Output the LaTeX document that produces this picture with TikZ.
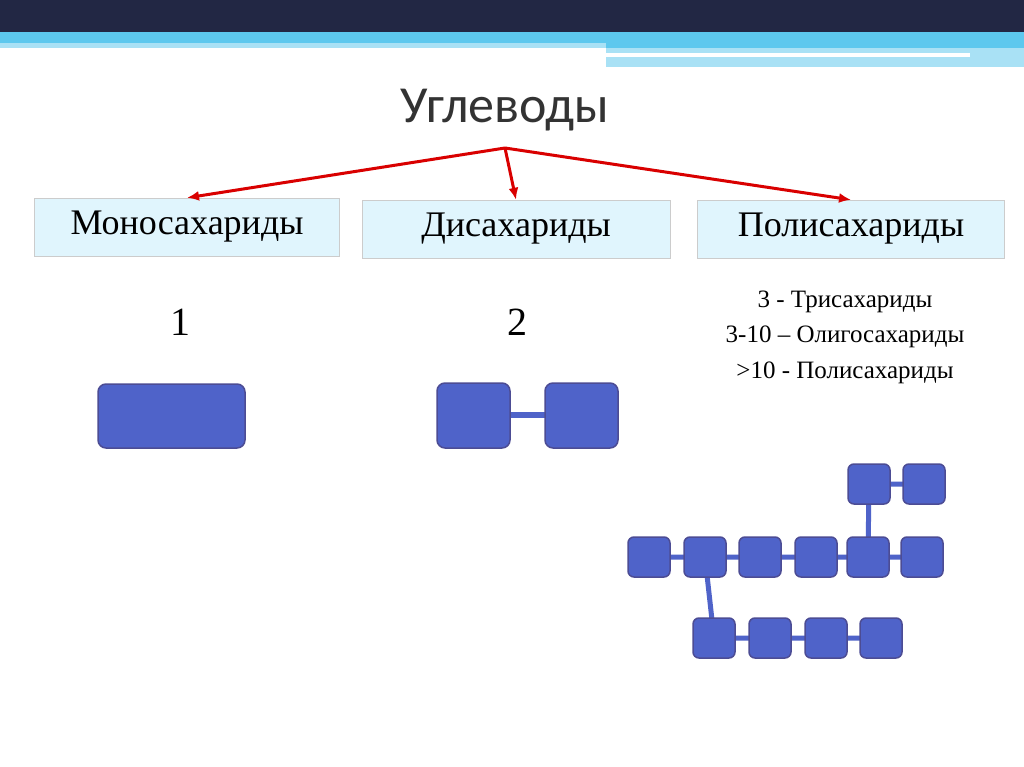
\documentclass[tikz,border=0pt]{standalone}
\usepackage{fontspec}
\setmainfont{Liberation Serif}
\newfontfamily\titlefont{Carlito}
\begin{document}
\begin{tikzpicture}[x=1pt,y=-1pt,
  catbox/.style={draw=gray!40,fill=cyan!12,minimum width=#1,minimum height=58pt,inner sep=0pt,font=\fontsize{36}{40}\selectfont,drop shadow/.try},
  mono/.style={draw=blue!40!black!70,line width=1.5pt,fill=unitblue,rounded corners=8pt},
  link/.style={draw=unitblue,line width=6pt},
  redarrow/.style={draw=red!85!black,line width=3pt,-{Latex[length=12pt,width=10pt]}}]
\usetikzlibrary{arrows.meta}
\definecolor{unitblue}{HTML}{4F63C9}
\definecolor{navy}{HTML}{222744}
\definecolor{band}{HTML}{5DC8EE}
\definecolor{pale}{HTML}{A9E1F5}
\useasboundingbox (0,0) rectangle (1024,767);
\fill[white] (0,0) rectangle (1024,767);
\fill[navy] (0,0) rectangle (1024,32);
\fill[band] (0,32) rectangle (1024,48);
\fill[pale] (0,43) rectangle (606,48);
\fill[band] (606,43) rectangle (1024,48);
\fill[pale] (606,48) rectangle (1024,53);
\fill[pale] (606,57) rectangle (970,67);
\fill[pale] (970,53) rectangle (1024,67);
\node[font=\titlefont\fontsize{52}{56}\selectfont,text=black!80] (title) at (505,110) {Углеводы};
\coordinate (hub) at (505,148);
\node[catbox=305pt] (m) at (187,227) {Моносахариды};
\node[catbox=308pt] (d) at (516,229) {Дисахариды};
\node[catbox=307pt] (p) at (851,229) {Полисахариды};
\draw[redarrow] (hub) -- (m.north);
\draw[redarrow] (hub) -- (d.north);
\draw[redarrow] (hub) -- (p.north);
\node[font=\fontsize{40}{44}\selectfont] (n1) at (180,322) {1};
\node[font=\fontsize{40}{44}\selectfont] (n2) at (517,322) {2};
\node[font=\fontsize{25}{35.5}\selectfont,align=center] (txt) at (845,337) {3 - Трисахариды\\3-10 – Олигосахариды\\>10 - Полисахариды};
% mono
\draw[mono] (98,384) rectangle (245,448);
% di
\draw[link] (510,415) -- (545,415);
\draw[mono] (437,383) rectangle (510,448);
\draw[mono] (545,383) rectangle (618,448);
% poly
\foreach \x/\n in {628/a1,684/a2,739/a3,795/a4,847/a5,901/a6}{\coordinate (\n) at (\x+21,557);}
\foreach \x/\n in {693/b1,749/b2,805/b3,860/b4}{\coordinate (\n) at (\x+21,638);}
\coordinate (t1) at (869,484); \coordinate (t2) at (924,484);
\draw[link,line width=5pt] (a1)--(a6) (b1)--(b4) (t1)--(t2) (t1)--(a5) (a2)--(b1);
\foreach \n in {a1,a2,a3,a4,a5,a6,b1,b2,b3,b4,t1,t2}{\draw[mono,rounded corners=6pt] ([shift={(-21,-20)}]\n) rectangle ([shift={(21,20)}]\n);}
\end{tikzpicture}
\end{document}
